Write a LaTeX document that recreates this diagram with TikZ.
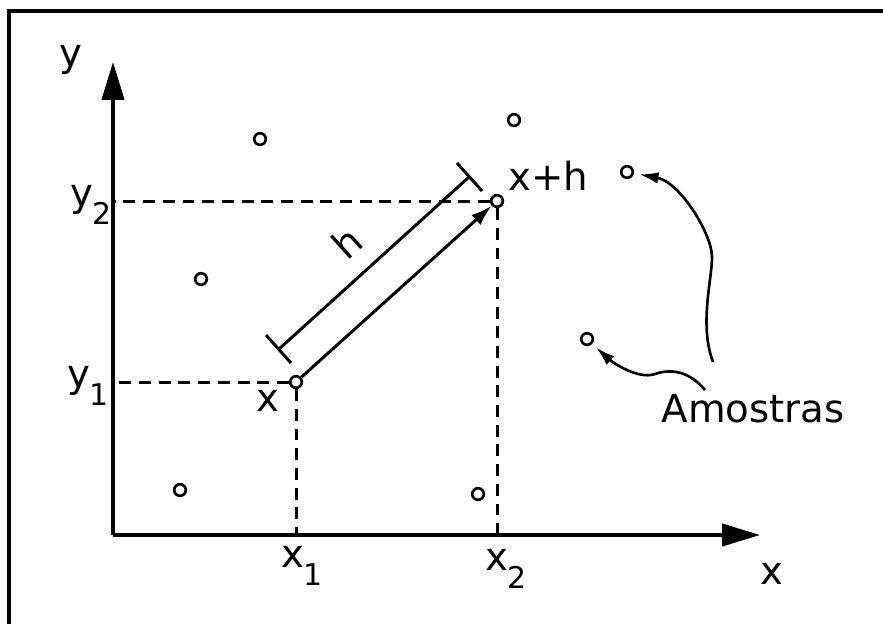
\documentclass[tikz,border=0pt]{standalone}
\usepackage{fontspec}
\setmainfont{DejaVu Sans}
\usetikzlibrary{arrows.meta}
\newcommand{\lowidx}[1]{\raisebox{-0.45em}{\fontsize{8.5}{9}\selectfont #1}}

\begin{document}
\begin{tikzpicture}[x=0.01cm, y=-0.01cm, font=\fontsize{11}{13}\selectfont,
    ax/.style={line width=1.05pt, -{Triangle[length=10.8pt, width=6.3pt]}},
    guide/.style={line width=0.85pt, dash pattern=on 3.4pt off 2.2pt},
    smp/.style={circle, draw, line width=0.75pt, fill=white, inner sep=0pt, minimum size=3.3pt},
    vec/.style={line width=0.85pt, -{Latex[length=6pt, width=3.8pt]}},
    lead/.style={line width=0.75pt, -{Latex[length=5.5pt, width=3.3pt]}, shorten >=1.5pt}]
  \useasboundingbox (0,0) rectangle (883,624);
  \draw[line width=0.9pt] (883,11) -- (9,11) -- (9,624);
  % axes
  \coordinate (o) at (113,535);
  \coordinate (xend) at (760,535);
  \coordinate (yend) at (113,62);
  \draw[ax] (o) -- (xend);
  \draw[ax] (o) -- (yend);
  \node (ylab) at (71,60) {y};
  \node (xlab) at (772,574) {x};
  % the two points and their projections
  \node[smp] (p1) at (296,382) {};
  \node[smp] (p2) at (497,201) {};
  \draw[guide] (p1) -- (p1 -| o);
  \draw[guide] (p1) -- (p1 |- o);
  \draw[guide] (p2) -- (p2 -| o);
  \draw[guide] (p2) -- (p2 |- o);
  \node (ly1) at (88,386) {y\lowidx{1}};
  \node (ly2) at (91,205) {y\lowidx{2}};
  \node (lx1) at (302,566) {x\lowidx{1}};
  \node (lx2) at (506,569) {x\lowidx{2}};
  \node (lp1) at (268,401) {x};
  \node (lp2) at (548,176) {x+h};
  \draw[vec] (p1) -- (p2);
  % dimension line h
  \draw[line width=0.85pt] (279,349) -- (469,177);
  \draw[line width=0.85pt] (266,335) -- (291,363);
  \draw[line width=0.85pt] (457,163) -- (482,191);
  \node[rotate=42] (lh) at (347,242) {h};
  % other samples
  \node[smp] (s1) at (260,139) {};
  \node[smp] (s2) at (514,120) {};
  \node[smp] (s3) at (201,279) {};
  \node[smp] (s4) at (627,172) {};
  \node[smp] (s5) at (587,339) {};
  \node[smp] (s6) at (180,490) {};
  \node[smp] (s7) at (478,494) {};
  \node (am) at (753,409) {Amostras};
  \coordinate (a1) at (713,362);
  \coordinate (a2) at (705,390);
  \draw[lead] (a1) .. controls (699,325) and (712,280) .. (712,257)
    .. controls (712,234) and (680,182) .. (s4);
  \draw[lead] (a2) .. controls (690,372) and (672,368) .. (655,374)
    .. controls (638,380) and (612,362) .. (s5);
\end{tikzpicture}
\end{document}
